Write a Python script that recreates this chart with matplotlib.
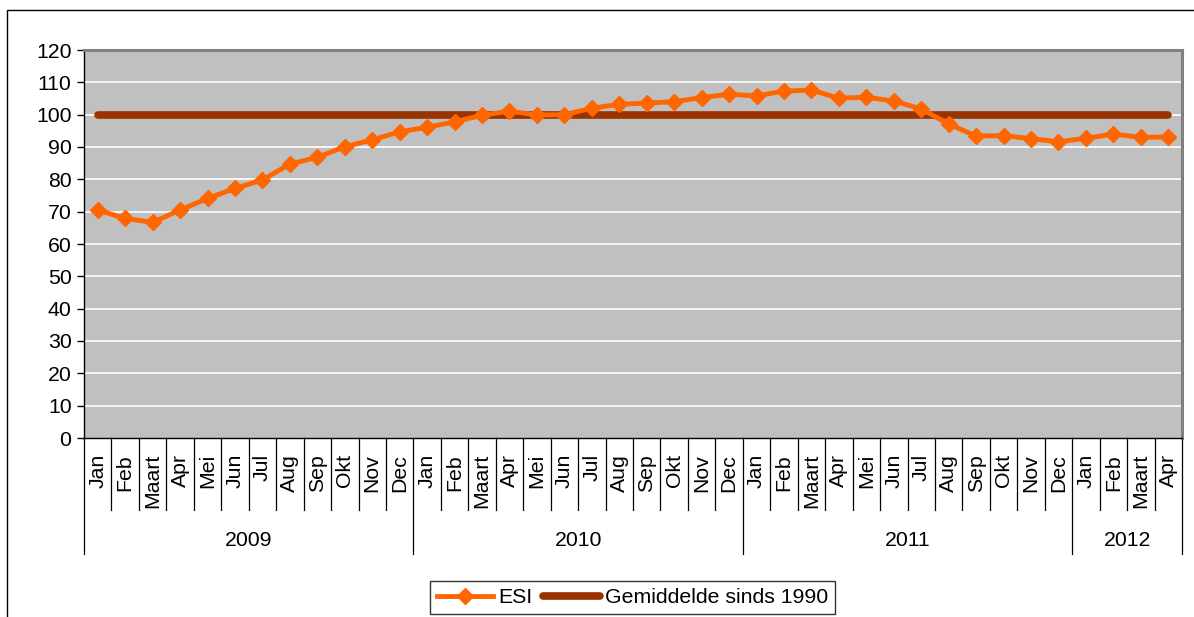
import matplotlib
matplotlib.use("Agg")
import matplotlib.pyplot as plt
import matplotlib.transforms as mtransforms
from matplotlib.patches import Rectangle

plt.rcParams['font.family'] = ['Liberation Sans', 'DejaVu Sans']

# Monthly economic sentiment indicator, Jan 2009 - Apr 2012
months = ["Jan", "Feb", "Maart", "Apr", "Mei", "Jun", "Jul", "Aug", "Sep", "Okt", "Nov", "Dec",
          "Jan", "Feb", "Maart", "Apr", "Mei", "Jun", "Jul", "Aug", "Sep", "Okt", "Nov", "Dec",
          "Jan", "Feb", "Maart", "Apr", "Mei", "Jun", "Jul", "Aug", "Sep", "Okt", "Nov", "Dec",
          "Jan", "Feb", "Maart", "Apr"]
years = ["2009", "2010", "2011", "2012"]
months_per_year = [12, 12, 12, 4]
esi = [70.5, 67.9, 66.7, 70.5, 74.1, 77.2, 79.8, 84.7, 86.8, 90.1, 92.2, 94.7,
       96.1, 97.8, 99.8, 101.1, 99.9, 100.0, 102.0, 103.2, 103.6, 104.0, 105.3, 106.3,
       105.8, 107.3, 107.6, 105.1, 105.4, 104.2, 101.8, 97.1, 93.4, 93.5, 92.6, 91.6,
       92.7, 94.0, 93.0, 93.1]
average = [100] * len(months)

FS = 15.3
W, H = 1194, 617
fig = plt.figure(figsize=(W / 100, H / 100), dpi=100)
fig.patch.set_facecolor("white")

# outer chart frame
fig.patches.append(Rectangle((7 / W, -0.2), 1.5, 1.2 - 10 / H, transform=fig.transFigure,
                             fill=False, edgecolor="black", linewidth=1.0, zorder=0))

left, right, top, bottom = 84, 1182, 50, 438
ax = fig.add_axes([left / W, 1 - bottom / H, (right - left) / W, (bottom - top) / H])
ax.set_facecolor("#C0C0C0")

n = len(months)
x = [i + 0.5 for i in range(n)]

ax.plot(x, average, color="#993300", linewidth=5.5, solid_capstyle="round",
        label="Gemiddelde sinds 1990", zorder=3)
ax.plot(x, esi, color="#FF6600", linewidth=3.5, marker="D", markersize=8,
        label="ESI", zorder=4)

ax.set_xlim(0, n)
ax.set_ylim(0, 120)
ax.set_yticks(range(0, 121, 10))
for v in range(10, 120, 10):
    ax.axhline(v, color="white", linewidth=1.2, zorder=1)

ax.tick_params(axis="y", direction="out", length=5, width=1, labelsize=FS, pad=4, colors="black")
ax.set_xticks([])

for side in ("top", "right"):
    ax.spines[side].set_color("#808080")
    ax.spines[side].set_linewidth(2.2)
ax.spines["left"].set_color("black")
ax.spines["bottom"].set_color("black")
ax.spines["left"].set_linewidth(1.0)
ax.spines["bottom"].set_linewidth(1.0)

# two-level category axis: months and years
trans = mtransforms.blended_transform_factory(ax.transData, ax.transAxes)
ax_h = bottom - top
def frac(py):
    return (bottom - py) / ax_h

year_bounds = [0]
for c in months_per_year:
    year_bounds.append(year_bounds[-1] + c)

for b in range(n + 1):
    y_end = frac(554) if b in year_bounds else frac(510)
    ax.plot([b, b], [0, y_end], color="black", linewidth=0.9, transform=trans, clip_on=False)

for i, m in enumerate(months):
    ax.text(i + 0.5, frac(454), m, rotation=90, ha="center", va="top", fontsize=FS,
            transform=trans)

for k, yr in enumerate(years):
    mid = (year_bounds[k] + year_bounds[k + 1]) / 2
    ax.text(mid, frac(540), yr, ha="center", va="center", fontsize=FS, transform=trans)

handles, labels = ax.get_legend_handles_labels()
leg = fig.legend([handles[1], handles[0]], [labels[1], labels[0]], ncol=2,
                 loc="center", bbox_to_anchor=(632.5 / W, 1 - 597.5 / H),
                 fontsize=FS, frameon=True, fancybox=False, edgecolor="black",
                 handlelength=2.65, handletextpad=0.24, columnspacing=0.5,
                 borderpad=0.35, borderaxespad=0)
leg.get_frame().set_linewidth(1.0)

fig.savefig("out.png", dpi=100)
